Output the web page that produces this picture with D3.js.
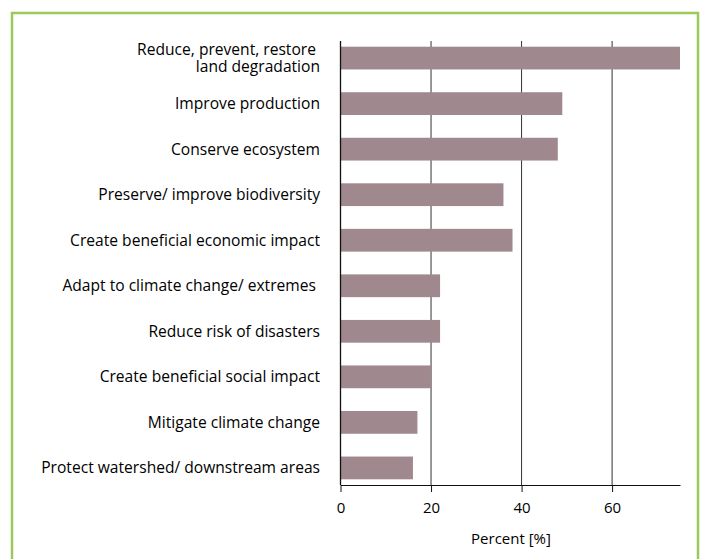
<!DOCTYPE html>
<html lang="en">
<head>
<meta charset="utf-8">
<title>Objectives</title>
<script src="https://cdn.jsdelivr.net/npm/d3@7"></script>
<style>
  body { margin: 0; background: #fff; }
  text { font-family: "Open Sans", "DejaVu Sans", sans-serif; }
</style>
</head>
<body>
<script>
// data
var categories = [
  ["Reduce, prevent, restore\u00a0", "land degradation"],
  ["Improve production"],
  ["Conserve ecosystem"],
  ["Preserve/ improve biodiversity"],
  ["Create beneficial economic impact"],
  ["Adapt to climate change/ extremes\u00a0"],
  ["Reduce risk of disasters"],
  ["Create beneficial social impact"],
  ["Mitigate climate change"],
  ["Protect watershed/ downstream areas"]
];
var values = [75, 49, 48, 36, 38, 22, 22, 20, 17, 16];
var ticks = [0, 20, 40, 60];

var w = 705, h = 559;
var plotLeft = 340.5, plotRight = 680, plotTop = 41, plotBottom = 485;

var svg = d3.select("body").append("svg")
  .attr("width", w).attr("height", h);

// green frame (open at the bottom)
svg.append("path")
  .attr("d", "M12,570 V13 H698 V570")
  .attr("fill", "none")
  .attr("stroke", "#9bc95a")
  .attr("stroke-width", 2.5);

var x = d3.scaleLinear().domain([0, 75]).range([plotLeft, plotRight]);
var y = d3.scaleBand()
  .domain(d3.range(categories.length))
  .range([plotTop, plotBottom])
  .paddingInner(0.5)
  .paddingOuter(0.125);

// gridlines
svg.selectAll("line.grid")
  .data(ticks.slice(1))
  .enter().append("line")
  .attr("class", "grid")
  .attr("x1", function(d) { return x(d); })
  .attr("x2", function(d) { return x(d); })
  .attr("y1", plotTop).attr("y2", plotBottom)
  .attr("stroke", "#333").attr("stroke-width", 1);

// bars
svg.selectAll("rect.bar")
  .data(values)
  .enter().append("rect")
  .attr("class", "bar")
  .attr("x", x(0))
  .attr("y", function(d, i) { return y(i); })
  .attr("width", function(d) { return x(d) - x(0); })
  .attr("height", y.bandwidth())
  .attr("fill", "#a0888f");

// y axis line
svg.append("line")
  .attr("x1", x(0)).attr("x2", x(0))
  .attr("y1", plotTop).attr("y2", plotBottom)
  .attr("stroke", "#111").attr("stroke-width", 1.3);

// x axis
var xAxis = d3.axisBottom(x).tickValues(ticks).tickSize(7).tickSizeOuter(0).tickPadding(10);
var gx = svg.append("g")
  .attr("transform", "translate(0," + plotBottom + ")")
  .call(xAxis);
gx.select(".domain").attr("stroke", "#111");
gx.selectAll(".tick line").attr("stroke", "#111");
gx.selectAll(".tick text")
  .attr("font-family", "'Open Sans', sans-serif")
  .attr("font-size", 15)
  .attr("fill", "#000");

svg.append("text")
  .attr("x", 511).attr("y", 544)
  .attr("text-anchor", "middle")
  .attr("font-size", 15)
  .attr("fill", "#000")
  .text("Percent [%]");

// category labels
var lineGap = 17.5;
var labels = svg.selectAll("text.cat")
  .data(categories)
  .enter().append("text")
  .attr("class", "cat")
  .attr("text-anchor", "end")
  .attr("font-size", 15.6)
  .attr("fill", "#000")
  .attr("x", 320)
  .attr("y", function(d, i) {
    var c = y(i) + y.bandwidth() / 2;
    return c - (d.length - 1) * lineGap / 2;
  });

labels.selectAll("tspan")
  .data(function(d) { return d; })
  .enter().append("tspan")
  .attr("x", 320)
  .attr("dy", function(d, i) { return i === 0 ? "0.35em" : lineGap + "px"; })
  .style("white-space", "pre")
  .text(function(d) { return d; });
</script>
</body>
</html>
